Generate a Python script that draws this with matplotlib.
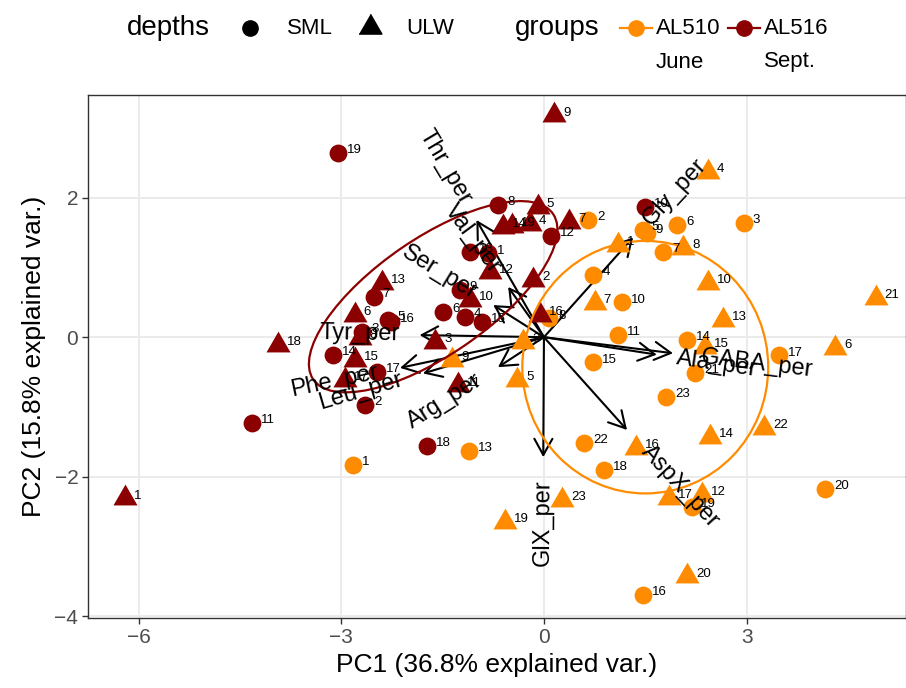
"""PCA biplot (ggbiplot style): AL510 vs AL516, SML / ULW"""

import numpy as np
import matplotlib
matplotlib.use('Agg')
import matplotlib.pyplot as plt
from matplotlib.patches import Ellipse

plt.rcParams['font.family'] = ['Liberation Sans', 'DejaVu Sans']

# --- scores (PC1, PC2) ---
# AL516 (Sept.), SML -> circles
al516_sml_lab = ['1', '2', '3', '4', '5', '6', '7', '8', '9', '10',
                 '11', '12', '13', '14', '15', '16', '17', '18', '19']
al516_sml_x = [-0.83, -2.65, -2.69, -1.17, -2.31, -1.49, -2.52, -0.68, -1.24, 1.50,
               -4.32, 0.10, -1.10, -3.12, -0.92, -2.26, -2.47, -1.73, -3.05]
al516_sml_y = [1.20, -0.97, 0.08, 0.29, 0.25, 0.36, 0.58, 1.90, 0.68, 1.87,
               -1.23, 1.45, 1.22, -0.25, 0.22, 0.22, -0.50, -1.56, 2.64]

# AL516 (Sept.), ULW -> triangles
al516_ulw_lab = ['1', '2', '3', '4', '5', '6', '7', '8', '9', '10',
                 '11', '12', '13', '14', '15', '16', '17', '18', '19']
al516_ulw_x = [-6.20, -0.16, -1.61, -0.21, -0.09, -2.80, 0.37, -2.72, 0.15, -1.10,
               -1.27, -0.80, -2.40, -0.61, -2.80, -0.06, -2.95, -3.94, -0.47]
al516_ulw_y = [-2.31, 0.82, -0.07, 1.62, 1.87, 0.32, 1.65, -0.01, 3.18, 0.53,
               -0.69, 0.93, 0.78, 1.58, -0.33, 0.32, -0.61, -0.11, 1.59]

# AL510 (June), SML -> circles
al510_sml_lab = ['1', '2', '3', '4', '5', '6', '7', '8', '9', '10', '11',
                 '13', '14', '15', '16', '17', '18', '19', '20', '21', '22', '23']
al510_sml_x = [-2.83, 0.65, 2.96, 0.73, 1.46, 1.97, 1.76, 0.08, 1.52, 1.15, 1.10,
               -1.11, 2.12, 0.73, 1.47, 3.48, 0.89, 2.19, 4.16, 2.24, 0.59, 1.81]
al510_sml_y = [-1.83, 1.68, 1.64, 0.89, 1.54, 1.61, 1.22, 0.27, 1.50, 0.50, 0.03,
               -1.63, -0.04, -0.36, -3.69, -0.26, -1.90, -2.43, -2.17, -0.51, -1.52, -0.86]

# AL510 (June), ULW -> triangles
al510_ulw_lab = ['1', '3', '4', '5', '6', '7', '8', '9', '10', '12', '13',
                 '14', '15', '16', '17', '19', '20', '21', '22', '23']
al510_ulw_x = [1.10, -0.31, 2.43, -0.40, 4.31, 0.75, 2.06, -1.36, 2.43, 2.34, 2.65,
               2.46, 2.38, 1.36, 1.85, -0.58, 2.12, 4.91, 3.26, 0.27]
al510_ulw_y = [1.32, -0.07, 2.37, -0.61, -0.15, 0.49, 1.28, -0.33, 0.78, -2.26, 0.25,
               -1.43, -0.14, -1.59, -2.30, -2.65, -3.43, 0.56, -1.30, -2.33]

# --- loadings (arrow tips) ---
var_names = ['Thr_per', 'Val_per', 'Ser_per', 'Tyr_per', 'Phe_per', 'Leu_per',
             'Arg_per', 'GlX_per', 'AspX_per', 'Ala_per', 'GABA_per', 'Gly_per']
var_x = [-1.00, -0.53, -0.75, -1.84, -2.13, -1.79, -0.68, -0.01, 1.23, 1.67, 1.91, 1.32]
var_y = [1.68, 0.72, 0.46, 0.03, -0.44, -0.52, -0.43, -1.72, -1.33, -0.25, -0.23, 1.43]

groups = ['AL510\nJune', 'AL516\nSept.']
group_colors = ['#FF8C00', '#8B0000']

# 68 % group ellipses (centre, full axes, tilt in deg)
ell_cx = [1.50, -1.64]
ell_cy = [-0.43, 0.58]
ell_w = [3.64, 4.27]
ell_h = [3.62, 1.68]
ell_angle = [0, 33.5]

TRI = [(-1, -0.577), (1, -0.577), (0, 1.155)]  # equilateral, centred

fig = plt.figure(figsize=(9.06, 6.88), dpi=100)
ax = fig.add_axes([88 / 906, 69.7 / 688, 818 / 906, 523.6 / 688])

# arrows first (under the points)
for vx, vy in zip(var_x, var_y):
    ax.annotate('', xy=(vx, vy), xytext=(0, 0),
                arrowprops=dict(arrowstyle='->,head_length=0.45,head_width=0.25',
                                lw=1.5, color='black', shrinkA=0, shrinkB=0,
                                mutation_scale=26),
                zorder=2)

col = dict(zip(groups, group_colors))
series = [
    (al510_sml_x, al510_sml_y, al510_sml_lab, groups[0], 'o'),
    (al510_ulw_x, al510_ulw_y, al510_ulw_lab, groups[0], '^'),
    (al516_sml_x, al516_sml_y, al516_sml_lab, groups[1], 'o'),
    (al516_ulw_x, al516_ulw_y, al516_ulw_lab, groups[1], '^'),
]
for xs, ys, labs, g, m in series:
    if m == 'o':
        ax.scatter(xs, ys, s=165, marker='o', color=col[g], lw=0, zorder=3)
    else:
        ax.scatter(xs, ys, s=400, marker=TRI, color=col[g], lw=0, zorder=3)
    for x, y, lab in zip(xs, ys, labs):
        ax.annotate(lab, (x, y), xytext=(6.5, 2), textcoords='offset points',
                    ha='left', va='center', fontsize=9.5, zorder=5)

for i in range(len(groups)):
    ax.add_patch(Ellipse((ell_cx[i], ell_cy[i]), ell_w[i], ell_h[i], angle=ell_angle[i],
                         fill=False, edgecolor=group_colors[i], lw=1.6, zorder=4))

# variable names, hjust = (1 - 1.5*sign(x))/2 like ggbiplot
renderer = fig.canvas.get_renderer()
for name, vx, vy in zip(var_names, var_x, var_y):
    ang = np.degrees(np.arctan(vy / vx))
    tmp = ax.text(0, 0, name, fontsize=17)
    w = tmp.get_window_extent(renderer).width * 72 / fig.dpi
    tmp.remove()
    sgn = np.sign(vx)
    off = sgn * 0.25 * w
    ax.annotate(name, (vx, vy),
                xytext=(off * np.cos(np.radians(ang)), off * np.sin(np.radians(ang))),
                textcoords='offset points', fontsize=17, rotation=ang,
                rotation_mode='anchor', ha='left' if sgn > 0 else 'right',
                va='center', zorder=6)

ax.set_xlim(-6.75, 5.36)
ax.set_ylim(-4.03, 3.476)
ax.set_xticks([-6, -3, 0, 3])
ax.set_yticks([-4, -2, 0, 2])
ax.set_xticklabels(['\u22126', '\u22123', '0', '3'])
ax.set_yticklabels(['\u22124', '\u22122', '0', '2'])
ax.grid(True, color='#EBEBEB', lw=1.4, zorder=0)
ax.set_axisbelow(True)
for sp in ax.spines.values():
    sp.set_color('#333333')
    sp.set_linewidth(1.0)
ax.tick_params(length=4, width=1, color='#333333', labelcolor='#4D4D4D',
               labelsize=15, pad=3)
ax.set_xlabel('PC1 (36.8% explained var.)', fontsize=19, labelpad=4)
ax.set_ylabel('PC2 (15.8% explained var.)', fontsize=19, labelpad=6)

# legend strip on top (pixel coords)
lax = fig.add_axes([0, 1 - 90 / 688, 1, 90 / 688])
lax.set_xlim(0, 906)
lax.set_ylim(90, 0)
lax.axis('off')
lax.text(127, 28, 'depths', fontsize=20, va='center', ha='left')
lax.plot([250], [28], marker='o', ms=11, color='black', ls='')
lax.text(287, 28, 'SML', fontsize=16, va='center', ha='left')
lax.plot([370], [27], marker=TRI, ms=19, color='black', ls='')
lax.text(406, 28, 'ULW', fontsize=16, va='center', ha='left')
lax.text(515, 28, 'groups', fontsize=20, va='center', ha='left')
for cx, g, c in [(636, groups[0], group_colors[0]), (744, groups[1], group_colors[1])]:
    lax.plot([cx - 16, cx + 16], [28, 28], color=c, lw=1.6)
    lax.plot([cx], [28], marker='o', ms=11, color=c, ls='')
    top, bottom = g.split('\n')
    lax.text(cx + 20, 28, top, fontsize=16, va='center', ha='left')
    lax.text(cx + 20, 62, bottom, fontsize=16, va='center', ha='left')

fig.savefig('out.png', dpi=100)
